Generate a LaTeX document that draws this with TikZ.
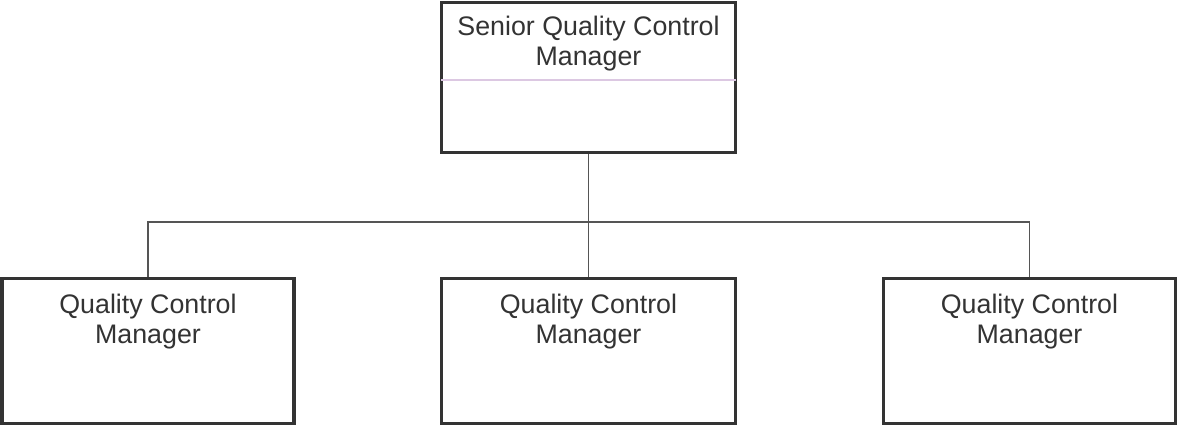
\documentclass[tikz,border=0pt]{standalone}
\usepackage{fontspec}
\setmainfont{Liberation Sans}
\usepackage{tikz}
\definecolor{inkgray}{HTML}{333333}
\definecolor{wiregray}{HTML}{555555}
\definecolor{lilac}{RGB}{220,200,226}

\begin{document}
\begin{tikzpicture}[x=0.5pt, y=0.5pt,
  mgrbox/.style={draw=inkgray, line width=1.6pt, fill=white, minimum width=146pt, inner sep=0pt},
  role/.style={anchor=north, align=center, text=inkgray, inner sep=0pt, font=\fontsize{13.4}{15}\selectfont},
  wire/.style={draw=wiregray, line width=0.6pt}]
\useasboundingbox (0,0) rectangle (1177,-426);

\node[mgrbox, minimum width=147.25pt, minimum height=74.75pt] at (588.5,-77.5) (senior) {};
\node[mgrbox, minimum height=72.5pt] at (148,-351) (qcm1) {};
\node[mgrbox, minimum width=147.25pt, minimum height=72.5pt] at (588.5,-351) (qcm2) {};
\node[mgrbox, minimum height=72.5pt] at (1029.5,-351) (qcm3) {};

\node[role] at ([yshift=-7.5pt]senior.north) (seniortext) {Senior Quality Control\\Manager};
\node[role] at ([yshift=-8.5pt]qcm1.north) (qcm1text) {Quality Control\\Manager};
\node[role] at ([yshift=-8.5pt]qcm2.north) (qcm2text) {Quality Control\\Manager};
\node[role] at ([yshift=-8.5pt]qcm3.north) (qcm3text) {Quality Control\\Manager};

\draw[lilac, line width=0.6pt, shorten <=0.8pt, shorten >=0.8pt]
  ([yshift=-1.25pt]senior.west) -- ([yshift=-1.25pt]senior.east);

\coordinate (bus) at (588.5,-222);
\path[wire] (senior.south) -- (qcm2.north);
\path[wire] (qcm1.north) |- (bus) -| (qcm3.north);

\end{tikzpicture}
\end{document}
